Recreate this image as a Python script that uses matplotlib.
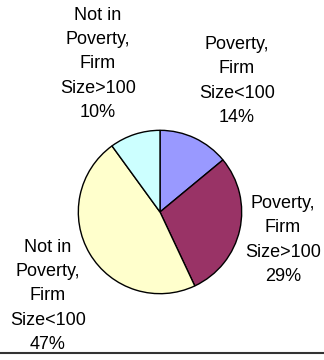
import matplotlib.pyplot as plt
from matplotlib.lines import Line2D

# firm size / poverty shares (percent)
names = ["Poverty,\nFirm\nSize<100", "Poverty,\nFirm\nSize>100",
         "Not in\nPoverty,\nFirm\nSize<100", "Not in\nPoverty,\nFirm\nSize>100"]
shares = [14, 29, 47, 10]
colors = ["#9999FF", "#993366", "#FFFFCC", "#CCFFFF"]

# label centres in pixels from top-left
label_xy = [(237, 81), (283, 240), (48, 296), (98, 64)]

W, H = 324, 360
fig = plt.figure(figsize=(W / 100, H / 100), dpi=100)
fig.patch.set_facecolor("white")

cx, cy, r = 160, 212, 82.5
ax = fig.add_axes([(cx - r) / W, (H - cy - r) / H, 2 * r / W, 2 * r / H])
ax.pie(shares, colors=colors, startangle=90, counterclock=False,
       wedgeprops=dict(edgecolor="black", linewidth=1.0))
ax.set_xlim(-1.01, 1.01)
ax.set_ylim(-1.01, 1.01)
ax.axis("off")

for name, val, (x, y) in zip(names, shares, label_xy):
    fig.text(x / W, 1 - y / H, f"{name}\n{val}%", ha="center", va="center",
             fontsize=13, family="Liberation Sans", linespacing=1.57,
             color="black")

# bottom rule
fig.add_artist(Line2D([0, 1], [1 - 352.5 / H] * 2, color="#333333", lw=1.5,
                      transform=fig.transFigure))

fig.savefig("out.png", dpi=100)
